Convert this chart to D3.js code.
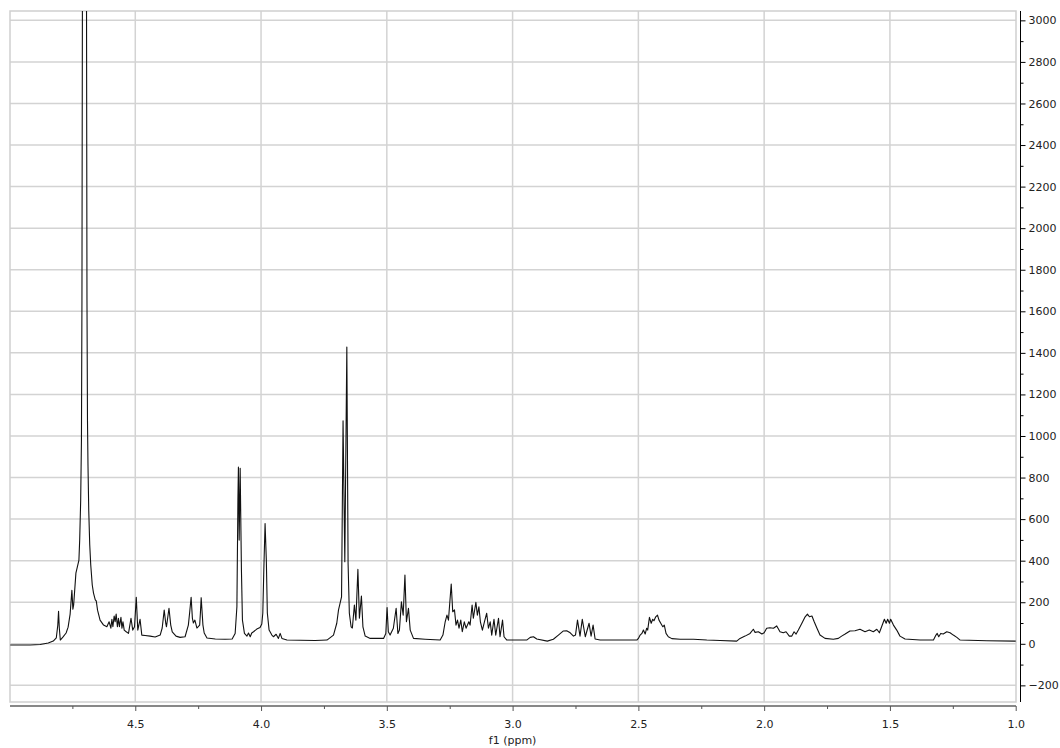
<!DOCTYPE html>
<html>
<head>
<meta charset="utf-8">
<script src="https://cdn.jsdelivr.net/npm/d3@7"></script>
<style>
  body { margin: 0; background: #fff; }
  svg { display: block; }
  text { font-family: "DejaVu Sans", Verdana, sans-serif; }
</style>
</head>
<body>
<svg id="chart" width="1060" height="748"></svg>
<script>
// 1H spectrum trace: [chemical shift (ppm), intensity]
const spectrum = [
  [4.997,-6],[4.918,-6],[4.878,-3],[4.846,4],[4.826,13],[4.814,28],[4.808,90],[4.805,157],[4.802,76],[4.798,18],
  [4.787,33],[4.775,52],[4.767,80],[4.759,143],[4.752,258],[4.748,167],[4.745,187],[4.736,340],[4.724,403],[4.721,499],
  [4.717,691],[4.714,980],[4.712,1652],[4.709,4000],[4.702,40000],[4.695,4000],[4.692,1653],[4.690,1076],[4.688,860],[4.685,643],
  [4.681,475],[4.677,379],[4.671,283],[4.666,244],[4.659,211],[4.655,206],[4.650,162],[4.640,114],[4.626,90],[4.613,82],
  [4.604,106],[4.597,75],[4.593,118],[4.589,82],[4.584,134],[4.580,106],[4.576,143],[4.571,82],[4.567,123],[4.563,82],
  [4.557,127],[4.553,75],[4.549,106],[4.544,66],[4.536,58],[4.527,50],[4.517,123],[4.510,66],[4.503,82],[4.496,224],
  [4.490,66],[4.481,118],[4.474,42],[4.461,40],[4.441,37],[4.421,33],[4.401,42],[4.393,76],[4.385,162],[4.379,100],
  [4.376,82],[4.366,171],[4.359,90],[4.353,57],[4.338,37],[4.322,31],[4.302,34],[4.289,90],[4.284,148],[4.278,224],
  [4.273,124],[4.269,100],[4.263,114],[4.255,76],[4.244,90],[4.241,150],[4.238,222],[4.231,90],[4.226,52],[4.215,28],
  [4.182,23],[4.143,22],[4.115,23],[4.103,50],[4.096,178],[4.092,691],[4.090,850],[4.087,499],[4.083,845],[4.080,547],
  [4.078,355],[4.074,114],[4.066,50],[4.056,37],[4.050,52],[4.043,34],[4.037,52],[4.030,58],[4.017,71],[4.004,79],
  [3.997,95],[3.993,148],[3.989,355],[3.984,579],[3.979,403],[3.975,148],[3.968,66],[3.957,42],[3.951,34],[3.940,46],
  [3.931,26],[3.924,50],[3.917,26],[3.897,18],[3.845,17],[3.785,16],[3.738,18],[3.712,42],[3.699,99],[3.692,163],
  [3.686,195],[3.680,226],[3.674,1073],[3.667,395],[3.659,1428],[3.654,388],[3.649,147],[3.642,82],[3.637,76],[3.629,187],
  [3.623,114],[3.615,358],[3.609,123],[3.601,230],[3.595,82],[3.586,37],[3.566,26],[3.513,26],[3.504,50],[3.499,174],
  [3.494,58],[3.487,42],[3.474,75],[3.463,171],[3.456,50],[3.450,66],[3.442,202],[3.435,138],[3.428,331],[3.422,106],
  [3.414,171],[3.407,66],[3.394,26],[3.348,22],[3.288,18],[3.277,42],[3.268,106],[3.261,138],[3.255,114],[3.244,288],
  [3.238,154],[3.231,163],[3.225,90],[3.219,114],[3.213,75],[3.206,114],[3.200,58],[3.192,106],[3.185,75],[3.174,106],
  [3.169,90],[3.161,187],[3.156,123],[3.146,200],[3.140,138],[3.134,178],[3.128,106],[3.120,66],[3.112,106],[3.103,147],
  [3.096,75],[3.089,106],[3.083,42],[3.074,118],[3.067,42],[3.056,123],[3.050,34],[3.040,114],[3.034,34],[3.023,18],
  [2.997,18],[2.944,18],[2.930,31],[2.917,34],[2.904,23],[2.862,13],[2.838,22],[2.818,42],[2.798,62],[2.785,63],
  [2.771,53],[2.758,37],[2.750,42],[2.742,114],[2.732,37],[2.723,118],[2.711,34],[2.696,99],[2.688,37],[2.680,90],
  [2.672,23],[2.652,18],[2.573,18],[2.506,18],[2.500,26],[2.493,42],[2.486,50],[2.480,66],[2.473,47],[2.467,75],
  [2.463,66],[2.456,127],[2.449,99],[2.443,118],[2.438,111],[2.431,130],[2.424,138],[2.418,114],[2.411,99],[2.403,82],
  [2.397,90],[2.390,50],[2.381,34],[2.367,25],[2.334,22],[2.281,22],[2.228,18],[2.175,16],[2.109,13],[2.096,26],
  [2.076,37],[2.056,50],[2.043,70],[2.036,55],[2.023,58],[2.009,47],[2.000,53],[1.990,75],[1.977,77],[1.963,75],
  [1.950,86],[1.937,58],[1.924,53],[1.913,58],[1.900,37],[1.890,37],[1.881,58],[1.873,47],[1.864,66],[1.850,99],
  [1.837,130],[1.828,143],[1.820,130],[1.810,134],[1.801,106],[1.790,75],[1.778,42],[1.758,26],[1.725,22],[1.705,26],
  [1.692,37],[1.678,47],[1.659,62],[1.639,63],[1.619,70],[1.599,58],[1.582,66],[1.566,58],[1.552,70],[1.542,53],
  [1.533,82],[1.522,118],[1.515,99],[1.509,118],[1.502,99],[1.497,118],[1.486,90],[1.473,66],[1.460,37],[1.440,23],
  [1.380,18],[1.327,18],[1.317,42],[1.312,50],[1.306,34],[1.298,50],[1.288,47],[1.274,58],[1.261,53],[1.248,42],
  [1.234,31],[1.221,18],[1.115,15],[1.003,13],[1.000,13]
];

const xMajorTicks = [4.5, 4.0, 3.5, 3.0, 2.5, 2.0, 1.5, 1.0];
const xMinorTicks = [4.75, 4.25, 3.75, 3.25, 2.75, 2.25, 1.75, 1.25];
const yMajorTicks = [-200, 0, 200, 400, 600, 800, 1000, 1200, 1400, 1600, 1800, 2000, 2200, 2400, 2600, 2800, 3000];
const yMinorTicks = [-100, 100, 300, 500, 700, 900, 1100, 1300, 1500, 1700, 1900, 2100, 2300, 2500, 2700, 2900];
const xTitle = "f1 (ppm)";

const svg = d3.select("#chart");
const frame = { left: 10, right: 1016, top: 11, bottom: 702 };

const x = d3.scaleLinear().domain([5.0, 1.0]).range([9.5, 1015.7]);
const y = d3.scaleLinear().domain([-280, 3045]).range([frame.bottom, frame.top]);

// grid
const grid = svg.append("g").attr("stroke", "#d3d3d3").attr("stroke-width", 1.5);
grid.selectAll("line.h").data(yMajorTicks).join("line")
  .attr("class", "h")
  .attr("x1", frame.left).attr("x2", frame.right)
  .attr("y1", d => y(d)).attr("y2", d => y(d));
grid.selectAll("line.v").data(xMajorTicks.filter(d => d > 1.0)).join("line")
  .attr("class", "v")
  .attr("x1", d => x(d)).attr("x2", d => x(d))
  .attr("y1", frame.top).attr("y2", frame.bottom);

svg.append("rect")
  .attr("x", frame.left).attr("y", frame.top)
  .attr("width", frame.right - frame.left).attr("height", frame.bottom - frame.top)
  .attr("fill", "none").attr("stroke", "#cfcfcf").attr("stroke-width", 1.5);

// spectrum
svg.append("clipPath").attr("id", "plotClip")
  .append("rect")
  .attr("x", frame.left).attr("y", frame.top)
  .attr("width", frame.right - frame.left).attr("height", frame.bottom - frame.top);

const line = d3.line().x(d => x(d[0])).y(d => y(d[1]));
svg.append("path")
  .datum(spectrum)
  .attr("clip-path", "url(#plotClip)")
  .attr("fill", "none")
  .attr("stroke", "#111")
  .attr("stroke-width", 1.1)
  .attr("stroke-linejoin", "round")
  .attr("d", line);

// right intensity axis
const yAxisG = svg.append("g").attr("transform", "translate(1020.5,0)");
yAxisG.call(d3.axisRight(y).tickValues(yMajorTicks).tickSize(5).tickPadding(3).tickFormat(d3.format("d")));
yAxisG.append("g").call(d3.axisRight(y).tickValues(yMinorTicks).tickSize(3).tickFormat(""))
  .select(".domain").remove();
yAxisG.selectAll(".domain").attr("d", `M0,${frame.top}V${frame.bottom}`).attr("stroke", "#000");
yAxisG.selectAll("text").attr("font-size", 11).attr("font-family", '"DejaVu Sans", Verdana, sans-serif').attr("fill", "#222");

// bottom shift axis
const xAxisG = svg.append("g").attr("transform", "translate(0,706)");
xAxisG.call(d3.axisBottom(x).tickValues(xMajorTicks).tickSize(5).tickPadding(9).tickFormat(d3.format(".1f")));
xAxisG.append("g").call(d3.axisBottom(x).tickValues(xMinorTicks).tickSize(3).tickFormat(""))
  .select(".domain").remove();
xAxisG.selectAll(".domain").attr("d", `M${frame.left},0H${frame.right}`).attr("stroke", "#888").attr("stroke-width", 1.8);
xAxisG.selectAll(".tick line").attr("stroke", "#555");
xAxisG.selectAll("text").attr("font-size", 11).attr("font-family", '"DejaVu Sans", Verdana, sans-serif').attr("fill", "#222");

svg.append("text")
  .attr("x", x(3.0)).attr("y", 744)
  .attr("text-anchor", "middle")
  .attr("font-size", 11)
  .attr("fill", "#222")
  .text(xTitle);
</script>
</body>
</html>
